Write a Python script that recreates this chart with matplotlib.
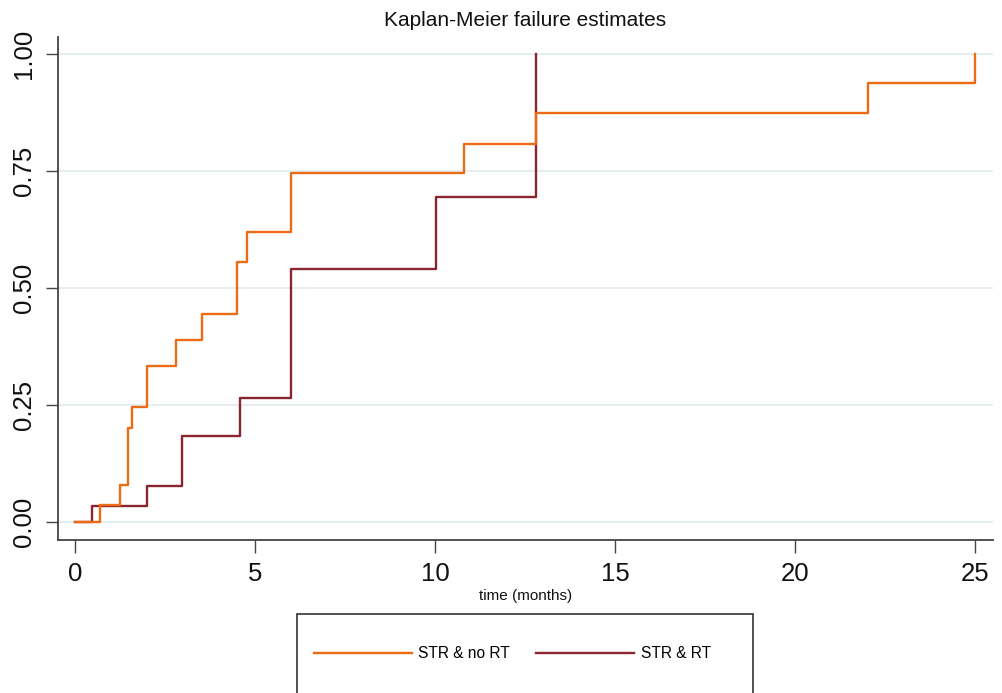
import matplotlib
matplotlib.use("Agg")
import matplotlib.pyplot as plt
from matplotlib.patches import Rectangle

plt.rcParams['font.family'] = ['Liberation Sans', 'DejaVu Sans']

# Kaplan-Meier failure estimates (cumulative failure) by group
time_no_rt = [0.0, 0.70, 1.25, 1.48, 1.57, 1.99, 2.80, 3.52, 4.49, 4.79, 5.99, 10.80, 12.80, 22.03, 25.00]
fail_no_rt = [0.0, 0.037, 0.078, 0.201, 0.245, 0.333, 0.389, 0.444, 0.556, 0.620, 0.745, 0.807, 0.873, 0.937, 1.000]

time_rt = [0.0, 0.47, 1.99, 2.98, 4.59, 5.99, 10.02, 12.80]
fail_rt = [0.0, 0.035, 0.076, 0.184, 0.264, 0.541, 0.694, 1.000]

labels = ["STR & no RT", "STR & RT"]
colors = ["#ED6B14", "#8A2530"]

x_ticks = [0, 5, 10, 15, 20, 25]
y_ticks = [0.0, 0.25, 0.50, 0.75, 1.00]
y_ticklabels = ["0.00", "0.25", "0.50", "0.75", "1.00"]

fig = plt.figure(figsize=(10.02, 6.93), dpi=100)
ax = fig.add_axes([0.0579, 0.2208, 0.9331, 0.7258])

for y in y_ticks:
    ax.axhline(y, color="#E0EBEE", lw=1.2, zorder=0)

l1, = ax.step(time_no_rt, fail_no_rt, where="post", color=colors[0], lw=1.7, label=labels[0], zorder=3)
l2, = ax.step(time_rt, fail_rt, where="post", color=colors[1], lw=1.7, label=labels[1], zorder=2)

ax.set_xlim(-0.472, 25.5)
ax.set_ylim(-0.0385, 1.036)

ax.set_xticks(x_ticks)
ax.set_yticks(y_ticks)
ax.set_yticklabels(y_ticklabels, rotation=90, va="center")

ax.tick_params(axis="both", direction="out", length=9, width=1.0, color="#444444",
               labelsize=18.5, labelcolor="#111111")
ax.tick_params(axis="x", pad=7)
ax.tick_params(axis="y", pad=7)

for side in ["top", "right"]:
    ax.spines[side].set_visible(False)
for side in ["left", "bottom"]:
    ax.spines[side].set_color("#444444")
    ax.spines[side].set_linewidth(1.3)

ax.set_xlabel("time (months)", fontsize=11, labelpad=2, color="#111111")
ax.set_title("Kaplan-Meier failure estimates", fontsize=15, pad=8, color="#111111")

# Legend box running off the bottom of the figure
W, H = 1002.0, 693.0
box = Rectangle((297 / W, 1 - 700 / H), (753 - 297) / W, (700 - 614) / H,
                transform=fig.transFigure, fill=False, edgecolor="#333333", lw=1.2)
fig.add_artist(box)

fig.legend(handles=[l1, l2], labels=labels, loc="center left",
           bbox_to_anchor=(314 / W, 1 - 654 / H), ncol=2, frameon=False,
           fontsize=11.2, handlelength=6.3, handletextpad=0.4, columnspacing=1.7,
           borderaxespad=0, borderpad=0)

fig.savefig("out.png", dpi=100, facecolor="white")
